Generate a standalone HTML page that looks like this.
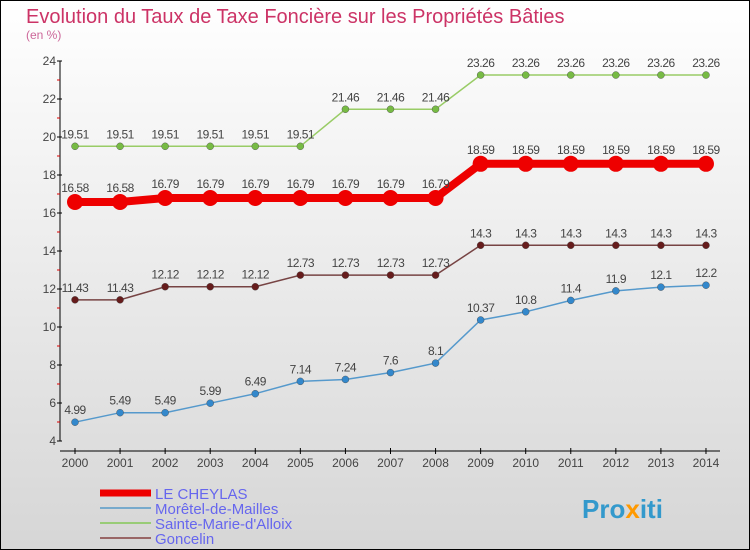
<!DOCTYPE html>
<html><head><meta charset="utf-8"><style>
body{margin:0}
#c{width:750px;height:550px;position:relative;overflow:hidden}
svg{display:block}
text{font-family:"Liberation Sans",sans-serif}
</style></head><body>
<div id="c">
<svg id="s" width="750" height="550" xmlns="http://www.w3.org/2000/svg">
<defs><linearGradient id="bg" x1="0" y1="0" x2="0" y2="1"><stop offset="0" stop-color="#ffffff"/><stop offset="1" stop-color="#d6d6d6"/></linearGradient></defs>
<rect x="0.5" y="0.5" width="749" height="549" fill="url(#bg)" stroke="#000"/>
<text x="26" y="23" font-size="20" fill="#cc3366">Evolution du Taux de Taxe Foncière sur les Propriétés Bâties</text>
<text x="26" y="39" font-size="12" fill="#cc6699">(en %)</text>
<g id="axes"></g><g id="series"></g><g id="legend"></g>
<text x="582" y="518" font-size="26" font-weight="bold" fill="#3399cc">Pro<tspan fill="#ff9900">x</tspan>iti</text>
</svg></div>
<script>
const years=[2000,2001,2002,2003,2004,2005,2006,2007,2008,2009,2010,2011,2012,2013,2014];
const yTicks=[4,6,8,10,12,14,16,18,20,22,24];
const cheylas=[16.58,16.58,16.79,16.79,16.79,16.79,16.79,16.79,16.79,18.59,18.59,18.59,18.59,18.59,18.59];
const moretel=[4.99,5.49,5.49,5.99,6.49,7.14,7.24,7.6,8.1,10.37,10.8,11.4,11.9,12.1,12.2];
const sainte=[19.51,19.51,19.51,19.51,19.51,19.51,21.46,21.46,21.46,23.26,23.26,23.26,23.26,23.26,23.26];
const goncelin=[11.43,11.43,12.12,12.12,12.12,12.73,12.73,12.73,12.73,14.3,14.3,14.3,14.3,14.3,14.3];
const NS="http://www.w3.org/2000/svg";
const X=i=>75+i*45.07, Y=v=>441-(v-4)*19;
function mk(t,a,p){const e=document.createElementNS(NS,t);for(const k in a)e.setAttribute(k,a[k]);p.appendChild(e);return e;}
const ax=document.getElementById('axes');
let e=mk('line',{x1:60,y1:61,x2:60,y2:441,stroke:'#000','stroke-width':1},ax);

e=mk('line',{x1:60,y1:451,x2:720,y2:451,stroke:'#000','stroke-width':1},ax);

yTicks.forEach((v,i)=>{mk('line',{x1:57,y1:Y(v),x2:62,y2:Y(v),stroke:'#000'},ax);
 if(i<yTicks.length-1)mk('line',{x1:57,y1:Y(v+1),x2:60,y2:Y(v+1),stroke:'#d00'},ax);
 e=mk('text',{x:56,y:Y(v)+4,'font-size':12,'text-anchor':'end',fill:'#444'},ax);e.textContent=v;
 });
years.forEach((y,i)=>{mk('line',{x1:X(i),y1:448,x2:X(i),y2:454,stroke:'#000'},ax);
 e=mk('text',{x:X(i),y:467,'font-size':12,'text-anchor':'middle',fill:'#444'},ax);e.textContent=y;
 });
const sg=document.getElementById('series');
const S=[[sainte,'#99cc66','#77bb44',1.5,3.5,'sainte-marie-dalloix'],[goncelin,'#774444','#661c1c',1.5,3.5,'goncelin'],[moretel,'#5599cc','#3388cc',1.5,3.5,'moretel-de-mailles'],[cheylas,'#ee0000','#ee0000',8,8,'le-cheylas']];
S.forEach(([d,lc,pc,w,r,n])=>{const g=mk('g',{},sg);
 e=mk('polyline',{points:d.map((v,i)=>X(i)+','+Y(v)).join(' '),fill:'none',stroke:lc,'stroke-width':w},g);
 
 d.forEach((v,i)=>{e=mk('circle',{cx:X(i),cy:Y(v),r:r,fill:pc,stroke:r>5?'none':'#444','stroke-width':0.4},g);
  
  e=mk('text',{x:X(i),y:Y(v)-(r>5?10:8),'font-size':12,'text-anchor':'middle',fill:'#444','letter-spacing':'-0.5'},g);e.textContent=v;
  });});
const lg=document.getElementById('legend');
const L=[['LE CHEYLAS','#ee0000',7],['Morêtel-de-Mailles','#77aacc',2],['Sainte-Marie-d\'Alloix','#99cc77',2],['Goncelin','#996666',2]];
L.forEach(([t,c,w],i)=>{const y=493+i*15;
 e=mk('line',{x1:100,y1:y,x2:151,y2:y,stroke:c,'stroke-width':w},lg);
 
 e=mk('text',{x:155,y:y+6,'font-size':15,fill:'#6666ee'},lg);e.textContent=t;
 });
</script></body></html>
